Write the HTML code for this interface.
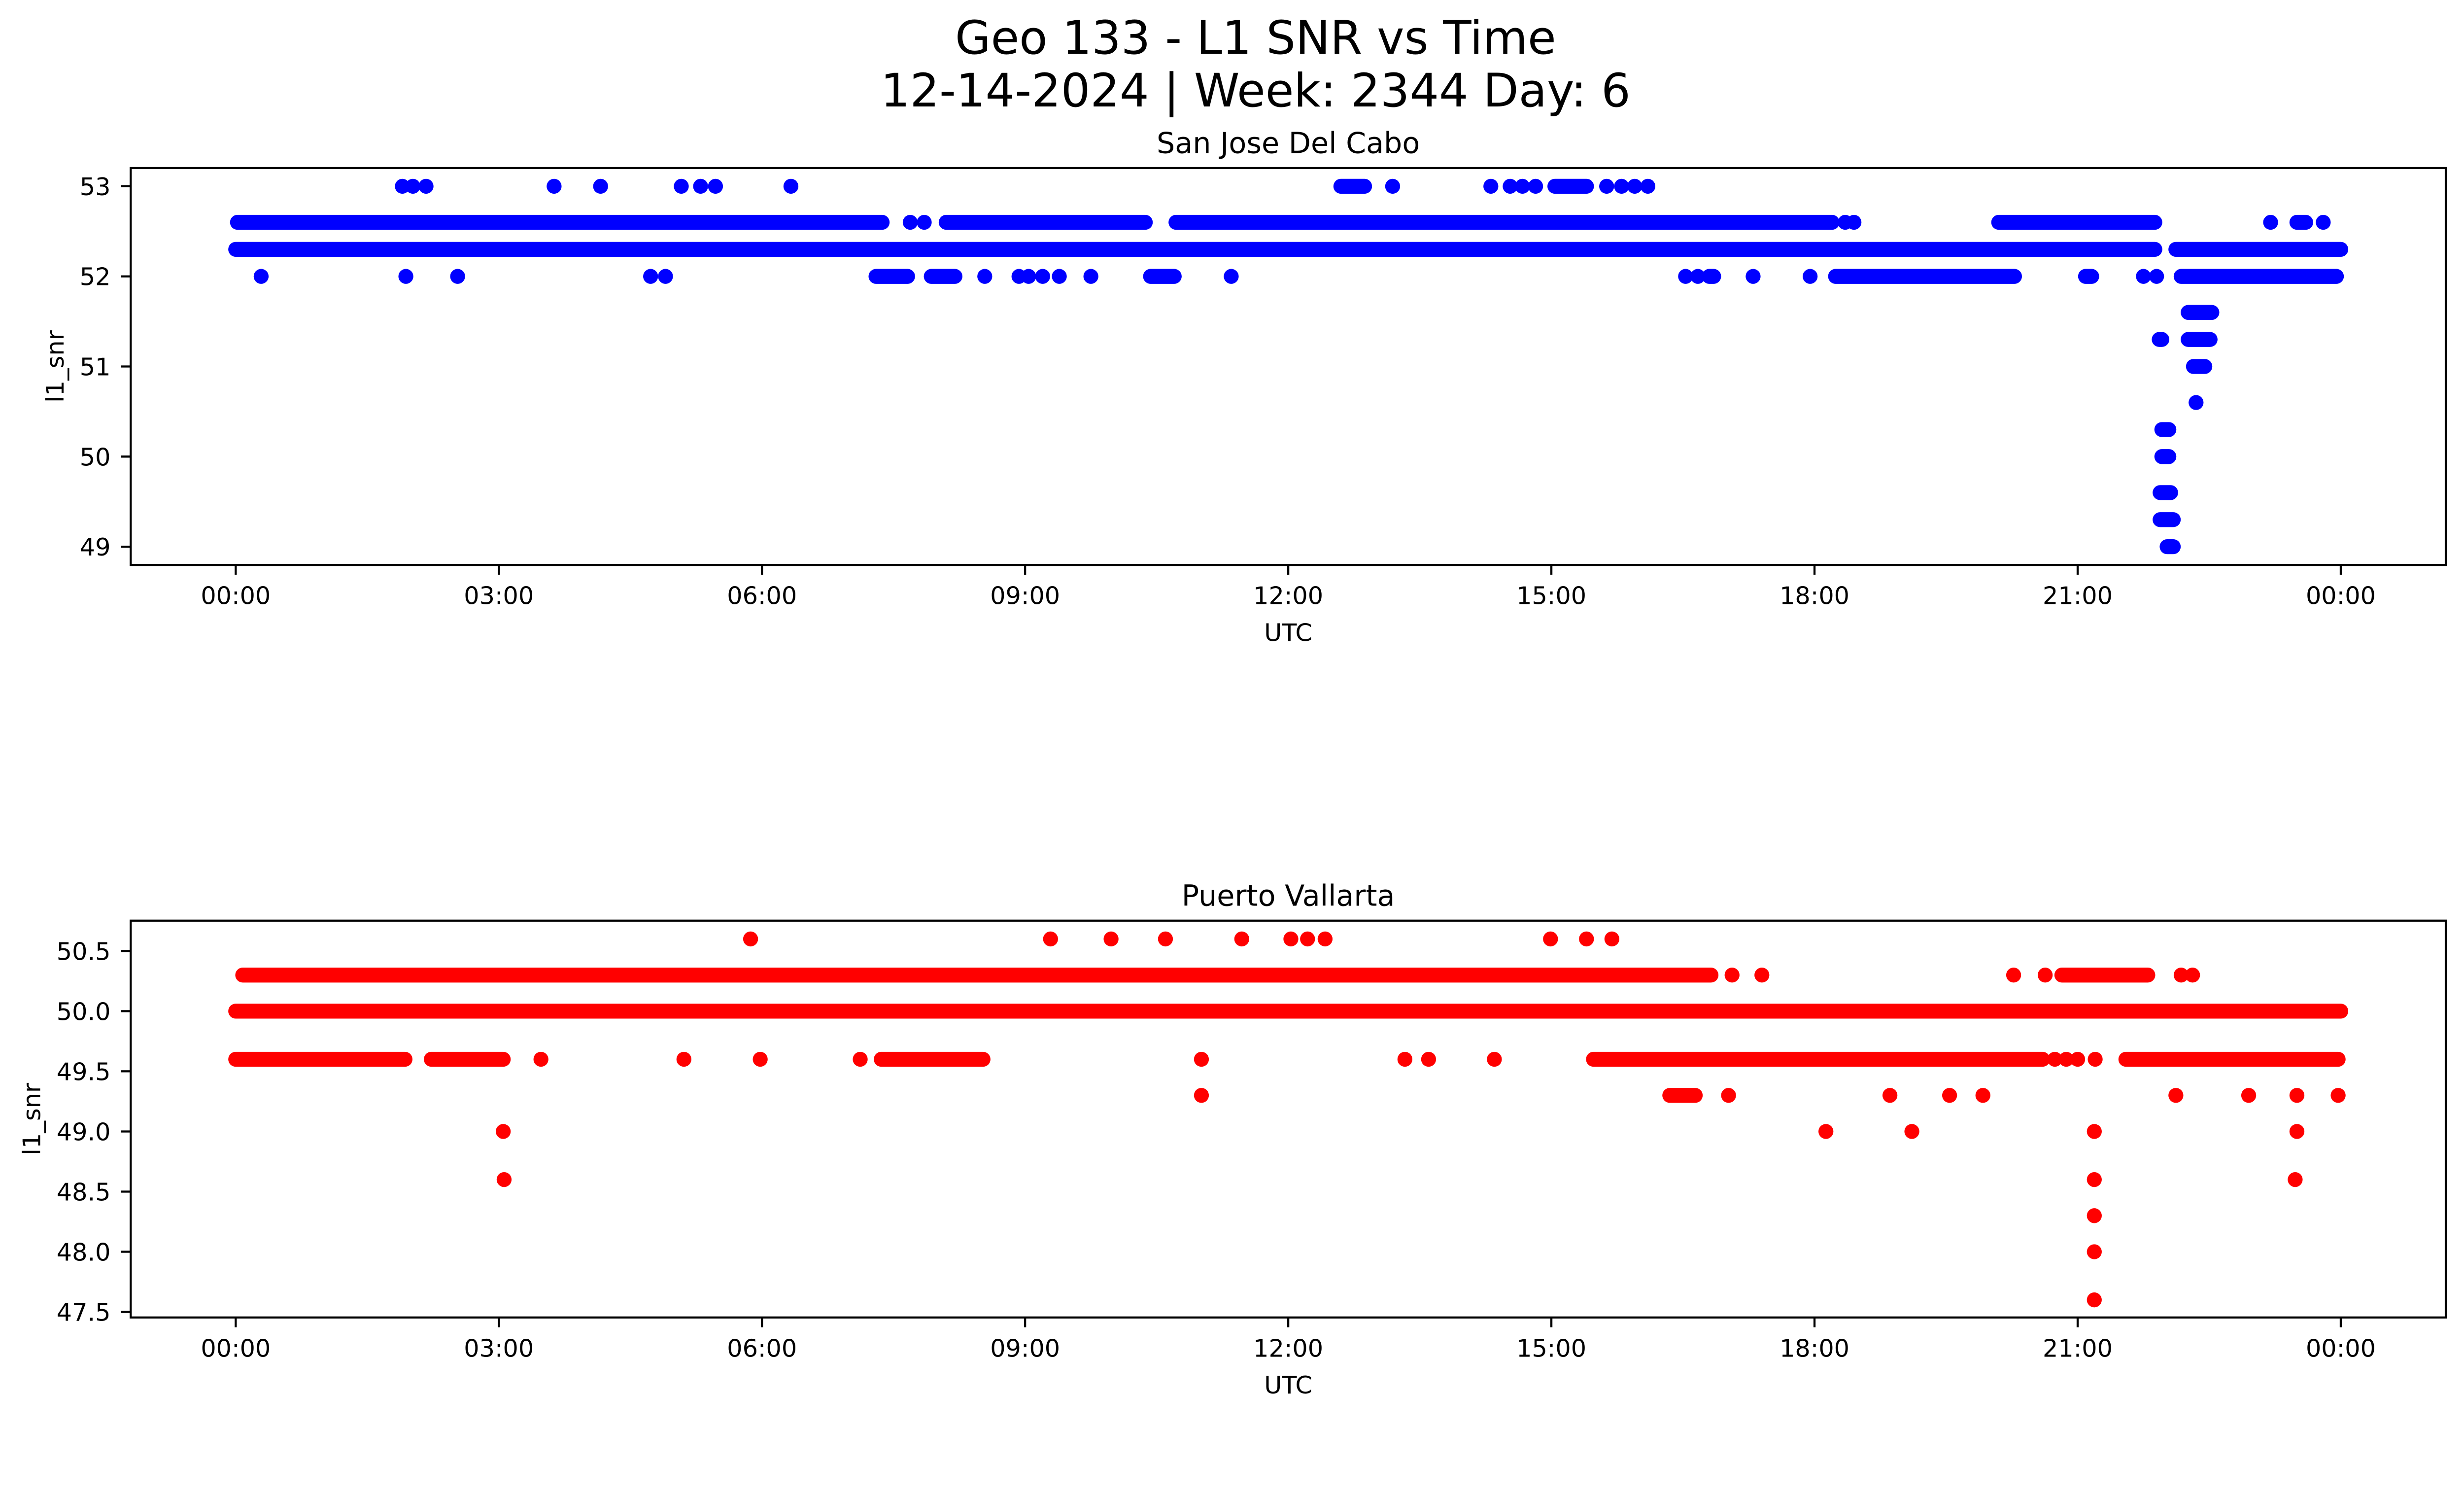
<!DOCTYPE html>
<html><head><meta charset="utf-8"><title>Geo 133 - L1 SNR vs Time</title>
<style>html,body{margin:0;padding:0;background:#fff;overflow:hidden}svg{display:block;width:100vw;height:57.4541vw}text{font-family:"DejaVu Sans","Liberation Sans",sans-serif;fill:#000}</style>
</head><body>
<svg id="fig" xmlns="http://www.w3.org/2000/svg" viewBox="0 0 5279 3033" preserveAspectRatio="xMidYMin meet">
<rect width="5279" height="3033" fill="#fff"/>
<text x="2690" y="115" font-size="99" text-anchor="middle">Geo 133 - L1 SNR vs Time</text>
<text x="2690" y="228" font-size="99" text-anchor="middle">12-14-2024 | Week: 2344 Day: 6</text>
<g id="top"></g>
<g id="bot"></g>
</svg>
<script>
// ---- shared axis data ----
const xTickHours = [0,3,6,9,12,15,18,21,24];
const xTickLabels = ["00:00","03:00","06:00","09:00","12:00","15:00","18:00","21:00","00:00"];

// ---- San Jose Del Cabo (blue) : runs [start,end] in hours per SNR level, plus single points ----
const topYTicks = [53,52,51,50,49];
const topYTickLabels = ["53","52","51","50","49"];
const topLevels = [53.0,52.6,52.3,52.0,51.6,51.3,51.0,50.6,50.3,50.0,49.6,49.3,49.0];
const topRuns = [
  [[12.6,12.87],[15.04,15.4]],
  [[0.02,7.37],[8.1,10.37],[10.72,18.2],[20.1,21.88],[23.5,23.6]],
  [[0.0,21.88],[22.12,24.0]],
  [[7.3,7.66],[7.93,8.2],[10.43,10.7],[16.8,16.85],[18.24,20.28],[21.09,21.16],[22.18,23.95]],
  [[22.26,22.53]],
  [[21.93,21.96],[22.26,22.51]],
  [[22.32,22.45]],
  [],
  [[21.96,22.04]],
  [[21.96,22.04]],
  [[21.94,22.06]],
  [[21.94,22.09]],
  [[22.02,22.09]]
];
const topPoints = [
  [1.9,2.02,2.17,3.63,4.16,5.08,5.3,5.47,6.33,13.19,14.31,14.53,14.67,14.82,15.63,15.8,15.95,16.1],
  [7.69,7.85,18.35,18.45,23.2,23.8],
  [],
  [0.29,1.94,2.53,4.73,4.9,8.54,8.93,9.04,9.2,9.39,9.75,11.35,16.53,16.67,17.3,17.95,21.75,21.9],
  [],[],[],
  [22.35],
  [],[],[],[],[]
];

// ---- Puerto Vallarta (red) ----
const botYTicks = [50.5,50.0,49.5,49.0,48.5,48.0,47.5];
const botYTickLabels = ["50.5","50.0","49.5","49.0","48.5","48.0","47.5"];
const botLevels = [50.6,50.3,50.0,49.6,49.3,49.0,48.6,48.3,48.0,47.6];
const botRuns = [
  [],
  [[0.08,16.82],[20.82,21.8]],
  [[0.0,24.0]],
  [[0.0,1.93],[2.23,3.05],[7.36,8.52],[15.48,20.6],[21.55,23.97]],
  [[16.35,16.64]],
  [],[],[],[],[]
];
const botPoints = [
  [5.87,9.29,9.98,10.6,11.47,12.03,12.22,12.42,14.99,15.4,15.69],
  [17.06,17.4,20.27,20.63,22.18,22.31],
  [],
  [3.48,5.11,5.98,7.12,11.01,13.33,13.6,14.35,20.74,20.87,21.0,21.2],
  [11.01,17.02,18.86,19.54,19.92,22.12,22.95,23.5,23.97],
  [3.05,18.13,19.11,21.19,23.5],
  [3.06,21.19,23.48],
  [21.19],[21.19],[21.19]
];

const NS = "http://www.w3.org/2000/svg";
function mk(tag, attrs, parent){ const e=document.createElementNS(NS,tag); for(const k in attrs) e.setAttribute(k,attrs[k]); parent.appendChild(e); return e; }

function drawPanel(g, cfg){
  const L=280, R=5240, T=cfg.top, B=cfg.bottom;
  const x = h => 505 + (5015-505)*h/24;
  const y = v => cfg.y0 + (cfg.v0 - v)*cfg.pxPerUnit;
  const t = mk("text",{x:(L+R)/2,y:T-32,"font-size":62,"text-anchor":"middle"},g);
  t.textContent = cfg.title;
  
  
  const dg = mk("g",{},g);
  
  
  cfg.levels.forEach((lv,i)=>{
    cfg.runs[i].forEach(r=>{
      const ln = mk("line",{x1:x(r[0]),x2:x(r[1]),y1:y(lv),y2:y(lv),stroke:cfg.color,"stroke-width":32,"stroke-linecap":"round"},dg);
      
      
    });
    cfg.points[i].forEach(h=>{
      const c = mk("ellipse",{cx:x(h),cy:y(lv),rx:16,ry:16,fill:cfg.color},dg);
      
      
    });
  });
  const fr = mk("rect",{x:L,y:T,width:R-L,height:B-T,fill:"none",stroke:"#000","stroke-width":4.5},g);
  
  
  xTickHours.forEach((h,i)=>{
    const tk = mk("line",{x1:x(h),x2:x(h),y1:B,y2:B+21,stroke:"#000","stroke-width":4.5},g);
    
    
    const tl = mk("text",{x:x(h),y:B+84,"font-size":52,"text-anchor":"middle"},g);
    tl.textContent = xTickLabels[i];
    
    
  });
  cfg.yTicks.forEach((v,i)=>{
    const tk = mk("line",{x1:L-21,x2:L,y1:y(v),y2:y(v),stroke:"#000","stroke-width":4.5},g);
    
    
    const tl = mk("text",{x:237,y:y(v)+19,"font-size":52,"text-anchor":"end"},g);
    tl.textContent = cfg.yTickLabels[i];
    
    
  });
  const xl = mk("text",{x:(L+R)/2,y:B+163,"font-size":52,"text-anchor":"middle"},g);
  xl.textContent = "UTC";
  
  
  const yl = mk("text",{x:0,y:0,"font-size":52,"text-anchor":"middle",transform:`translate(${cfg.ylabelX},${(T+B)/2}) rotate(-90)`},g);
  yl.textContent = "l1_snr";
  
  
}

drawPanel(document.getElementById("top"),{
  title:"San Jose Del Cabo", top:360, bottom:1210, y0:399, v0:53, pxPerUnit:193,
  levels:topLevels, runs:topRuns, points:topPoints, color:"#0000ff",
  yTicks:topYTicks, yTickLabels:topYTickLabels, ylabelX:136
});
drawPanel(document.getElementById("bot"),{
  title:"Puerto Vallarta", top:1972, bottom:2822, y0:2037, v0:50.5, pxPerUnit:257.7,
  levels:botLevels, runs:botRuns, points:botPoints, color:"#ff0000",
  yTicks:botYTicks, yTickLabels:botYTickLabels, ylabelX:86
});
</script>
</body></html>
